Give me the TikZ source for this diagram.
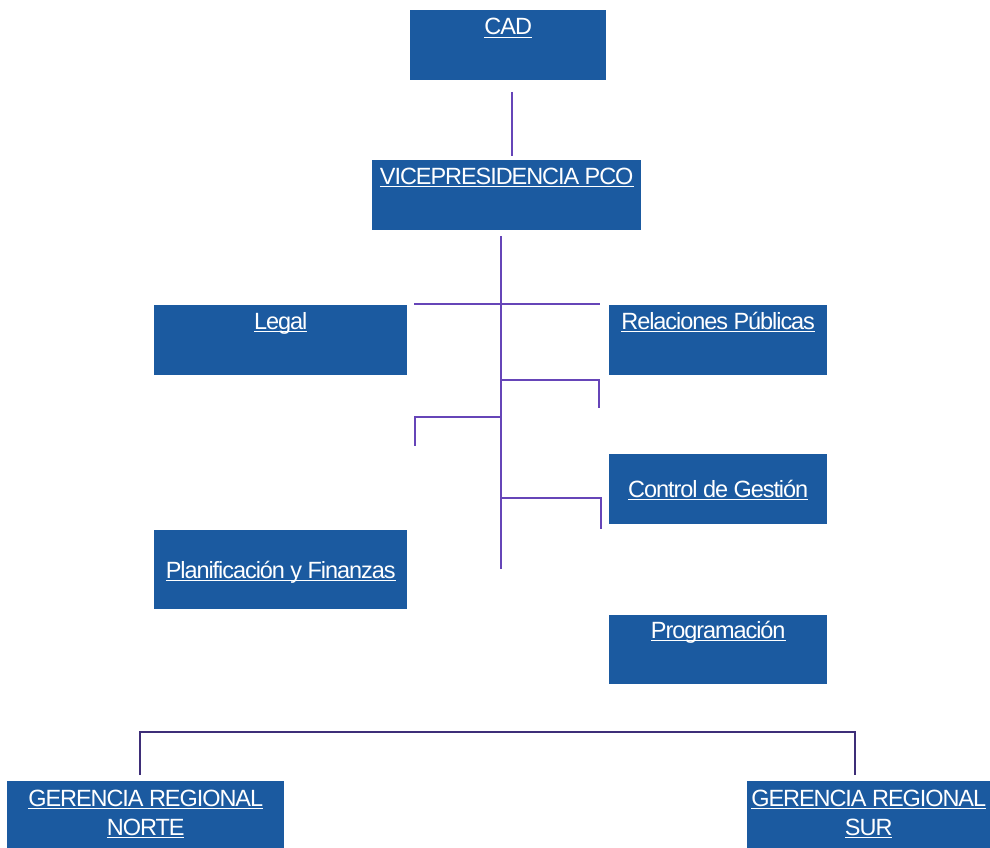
\documentclass[tikz,border=0pt]{standalone}
\usepackage{fontspec}
\setmainfont{Liberation Sans}[LetterSpace=-4.5]
\newcommand\ulx[1]{\setbox0\hbox{#1}\rlap{\rule[-3pt]{\wd0}{1.2pt}}\box0}
\definecolor{boxblue}{HTML}{1B5AA0}
\definecolor{linkpurple}{HTML}{6645B8}
\definecolor{linkdark}{HTML}{3E2E78}
\tikzset{
  unit/.style={fill=boxblue, draw=none, inner sep=0pt, anchor=north west},
  unitlabel/.style={anchor=base, text=white, font=\fontsize{23.5}{27}\selectfont, inner sep=0pt, align=center},
  link/.style={draw=linkpurple, line width=2.6pt},
  linkb/.style={draw=linkdark, line width=2.6pt},
}
\begin{document}
\begin{tikzpicture}[x=1pt, y=-1pt]
\useasboundingbox (0,0) rectangle (990,848);

% units
\node[unit, minimum width=196pt, minimum height=70pt] (cad) at (410,10) {};
\node[unit, minimum width=269pt, minimum height=70pt] (vp) at (372,160) {};
\node[unit, minimum width=253pt, minimum height=70pt] (legal) at (154,305) {};
\node[unit, minimum width=218pt, minimum height=70pt] (rrpp) at (609,305) {};
\node[unit, minimum width=218pt, minimum height=70pt] (cg) at (609,454) {};
\node[unit, minimum width=253pt, minimum height=79pt] (pf) at (154,530) {};
\node[unit, minimum width=218pt, minimum height=69pt] (prog) at (609,615) {};
\node[unit, minimum width=277pt, minimum height=67pt] (norte) at (7,781) {};
\node[unit, minimum width=243pt, minimum height=67pt] (sur) at (747,781) {};

% labels
\node[unitlabel] (cad-t) at ([yshift=-25pt]cad.north) {\ulx{CAD}};
\node[unitlabel] (vp-t) at ([yshift=-24pt]vp.north) {\ulx{VICEPRESIDENCIA PCO}};
\node[unitlabel] (legal-t) at ([yshift=-24pt]legal.north) {\ulx{Legal}};
\node[unitlabel] (rrpp-t) at ([yshift=-24pt]rrpp.north) {\ulx{Relaciones Públicas}};
\node[unitlabel] (cg-t) at ([yshift=-43pt]cg.north) {\ulx{Control de Gestión}};
\node[unitlabel] (pf-t) at ([yshift=-48pt]pf.north) {\ulx{Planificación y Finanzas}};
\node[unitlabel] (prog-t) at ([yshift=-23pt]prog.north) {\ulx{Programación}};
\node[unitlabel] (norte-t) at ([yshift=-25pt]norte.north) {\ulx{GERENCIA REGIONAL}};
\node[unitlabel] (norte-t2) at ([yshift=-54pt]norte.north) {\ulx{NORTE}};
\node[unitlabel] (sur-t) at ([yshift=-25pt]sur.north) {\ulx{GERENCIA REGIONAL}};
\node[unitlabel] (sur-t2) at ([yshift=-54pt]sur.north) {\ulx{SUR}};

% connector points
\coordinate (c1) at (512,92);
\coordinate (c2) at (512,156);
\coordinate (t0) at (501,236);
\coordinate (t1) at (501,569);
\coordinate (h1l) at (414,304);
\coordinate (h1r) at (600,304);
\coordinate (h2a) at (501,380);
\coordinate (h2b) at (599,380);
\coordinate (h2c) at (599,408);
\coordinate (h3a) at (501,417);
\coordinate (h3b) at (415,417);
\coordinate (h3c) at (415,446);
\coordinate (h4a) at (501,498);
\coordinate (h4b) at (601,498);
\coordinate (h4c) at (601,529);
\coordinate (bl) at (140,775);
\coordinate (bla) at (140,732);
\coordinate (bra) at (855,732);
\coordinate (br) at (855,775);

% connectors
\draw[link] (c1) -- (c2);
\draw[link] (t0) -- (t1);
\draw[link] (h1l) -- (h1r);
\draw[link] (h2a) -- (h2b) -- (h2c);
\draw[link] (h3a) -- (h3b) -- (h3c);
\draw[link] (h4a) -- (h4b) -- (h4c);
\draw[linkb] (bl) -- (bla) -- (bra) -- (br);
\end{tikzpicture}
\end{document}
